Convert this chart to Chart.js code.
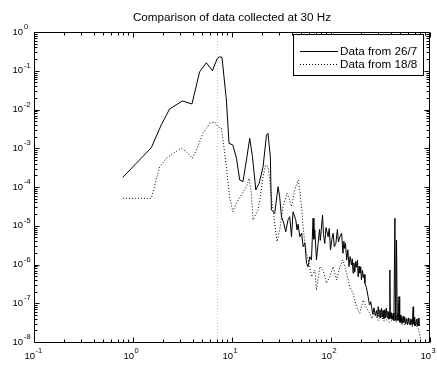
<!DOCTYPE html>
<html lang="en">
<head>
<meta charset="UTF-8">
<title>Comparison of data collected at 30 Hz</title>
<script src="https://cdn.jsdelivr.net/npm/chart.js"></script>
<style>
    body { margin: 0; background: #fff; }
    .wrap { position: relative; width: 437px; height: 365px; }
</style>
</head>
<body>
<div class="wrap"><canvas id="chart"></canvas></div>
<script>
// series (frequency in Hz, power)
const freq267 = [0.79, 1.08, 1.53, 1.93, 2.34, 3.15, 3.94, 4.71, 5.51, 6.34, 7.11, 7.51, 7.92, 8.78, 9.33,
    10.2, 11.1, 11.96, 12.9, 14.0, 15.1, 16.1, 17.4, 18.8, 20.6, 22.3, 23.1, 24.4, 25.0, 27.0, 29.2,
    30.3, 31.6, 33.3, 34.9, 36.8, 38.3, 39.9, 41.4, 44.1, 45.4, 46.5, 48.4, 50.5, 52.3, 54.5, 56.6,
    58.7, 61.1, 63.5, 65.9, 67.2, 68.6, 71.3, 74.1, 76.5, 78.0, 82.1, 84.0, 86.5, 89.0, 93.5, 96.0,
    98.9, 102, 105, 108, 112, 116, 119, 123, 128, 132, 135, 137, 140, 144, 148, 152, 156, 161, 164,
    167, 170, 174, 178, 181, 185, 188, 192, 196, 200, 203, 208, 212, 216, 220, 228, 237, 245, 252,
    257, 264, 272, 280, 288, 294, 300, 306, 312, 318, 324, 330, 336, 343, 350, 356, 362, 368, 375,
    380, 385, 390, 393, 397, 401, 405, 409, 415, 425, 432, 442, 448, 452, 459, 466, 475, 488, 494,
    500, 508, 516, 525, 535, 545, 556, 568, 580, 592, 604, 615, 628, 640, 651, 662, 676, 683, 690,
    697, 703, 716, 730, 745, 759, 774, 789];
const psd267 = [1.78e-4, 4.1e-4, 1.03e-3, 4.0e-3, 1.03e-2, 1.66e-2, 1.39e-2, 9.4e-2, 0.161, 0.100, 0.21, 0.23, 0.222, 1.76e-2, 1.34e-3,
    1.21e-3, 5.5e-4, 1.52e-4, 1.37e-4, 4.97e-4, 1.81e-3, 6.05e-4, 8.4e-5, 1.25e-4, 3.34e-4, 2.2e-3, 2.43e-3, 6.05e-4, 2.55e-5, 2.1e-5, 1.02e-4,
    5.6e-5, 1.71e-5, 1.18e-5, 7.0e-6, 1.41e-5, 1.71e-5, 5.2e-6, 2.3e-5, 1.41e-5, 7.8e-6, 1.1e-5, 5.2e-6, 6.5e-6, 2.88e-6, 3.6e-6, 1.07e-6,
    8.8e-7, 1.59e-6, 1.31e-6, 1.56e-5, 4.5e-6, 7.8e-6, 1.31e-6, 3.5e-6, 8.0e-6, 4.2e-6, 1.89e-5, 6.0e-6, 3.5e-6, 9.0e-6, 5.2e-6, 8.5e-6,
    2.37e-6, 4.5e-6, 6.4e-6, 2.9e-6, 3.5e-6, 8.0e-6, 3.8e-6, 5.2e-6, 6.4e-6, 1.95e-6, 4.0e-6, 2.6e-6, 3.5e-6, 1.31e-6, 2.4e-6, 8.8e-7, 1.6e-6, 9.7e-7, 1.4e-6,
    6.0e-7, 1.1e-6, 6.5e-7, 1.2e-6, 8.5e-7, 1.3e-6, 4.8e-7, 9.0e-7, 6.0e-7, 8.5e-7, 4.0e-7, 7.0e-7, 4.6e-7, 5.5e-7, 3.3e-7, 2.5e-7, 1.48e-7, 9.0e-8, 1.1e-7,
    8.1e-8, 5.2e-8, 7.6e-8, 4.8e-8, 6.5e-8, 4.4e-8, 8.2e-8, 4.5e-8, 6.8e-8, 4.2e-8, 7.4e-8, 4.4e-8, 6.5e-8, 4.0e-8, 6.8e-8, 4.2e-8, 7.5e-8, 4.3e-8, 6.2e-8,
    3.9e-8, 5.8e-8, 4.0e-8, 7.2e-7, 4.2e-8, 6.0e-8, 4.0e-8, 5.5e-8, 3.8e-8, 5.6e-8, 3.6e-8, 1.56e-5, 5.0e-8, 3.6e-8, 4.3e-6, 5.5e-8, 3.6e-8, 1.48e-7, 3.4e-8,
    5.0e-8, 3.2e-8, 4.5e-8, 3.0e-8, 4.6e-8, 3.2e-8, 4.4e-8, 2.9e-8, 4.0e-8, 2.8e-8, 4.2e-8, 2.9e-8, 4.0e-8, 2.8e-8, 3.8e-8, 2.7e-8, 8.1e-8, 2.9e-8, 4.4e-8,
    2.7e-8, 3.8e-8, 2.6e-8, 3.9e-8, 2.6e-8, 4.1e-8, 2.6e-8, 2.7e-8];

const freq188 = [0.79, 1.53, 1.86, 2.17, 2.53, 3.08, 3.46, 3.98, 4.37, 5.09, 5.95, 6.68, 7.22, 7.82, 8.11, 8.44, 8.78, 9.12, 9.48,
    10.2, 11.1, 12.4, 14.0, 14.9, 15.7, 16.3, 18.3, 19.1, 20.6, 21.9, 23.1, 24.0, 25.0, 27.0, 28.5, 30.3, 32.8, 36.0, 38.3, 39.9,
    43.0, 46.5, 48.4, 50.3, 52.3, 54.4, 56.6, 58.7, 61.1, 63.5, 68.6, 71.3, 77.1, 83.2, 90.0, 97.2, 105, 114, 123, 132, 144, 155,
    167, 181, 195, 211, 229, 247, 260, 270, 288, 300, 320, 340, 364, 390, 420, 459, 476, 495, 535, 600, 676, 720, 759, 803];
const psd188 = [5.1e-5, 5.1e-5, 3.3e-4, 5.5e-4, 7.4e-4, 1.0e-3, 8.1e-4, 5.5e-4, 9.0e-4, 2.43e-3, 4.4e-3, 4.8e-3, 3.6e-3, 3.27e-3, 1.63e-3, 7.4e-4, 3.3e-4, 1.25e-4, 5.6e-5,
    2.3e-5, 3.9e-5, 6.2e-5, 1.02e-4, 1.68e-4, 6.9e-5, 1.41e-5, 2.55e-5, 4.6e-5, 1.85e-4, 3.7e-4, 3.3e-4, 1.52e-4, 5.6e-5, 1.16e-5, 3.9e-6, 7.8e-6, 3.1e-5, 6.9e-5, 4.6e-5, 3.1e-5,
    8.4e-5, 1.52e-4, 8.4e-5, 3.1e-5, 9.4e-6, 3.5e-6, 1.95e-6, 1.31e-6, 8.8e-7, 4.8e-7, 7.2e-7, 2.2e-7, 8.8e-7, 7.2e-7, 3.3e-7, 4.8e-7, 8.8e-7, 4.0e-7, 8.8e-7, 1.31e-6, 5.9e-7, 2.67e-7,
    1.8e-7, 8.1e-8, 5.5e-8, 1.21e-7, 7.5e-8, 5.5e-8, 4.0e-8, 5.5e-8, 4.5e-8, 3.6e-8, 4.8e-8, 3.5e-8, 3.7e-8, 3.2e-8, 3.8e-8, 3.35e-8, 1.48e-7, 3.1e-8, 2.75e-8, 3.0e-8, 2.5e-8, 2.8e-8, 2.26e-8, 1.24e-8];

const seriesNames = ['Data from 26/7', 'Data from 18/8'];
const titleText = 'Comparison of data collected at 30 Hz';
const xDecades = [-1, 0, 1, 2, 3];
const yDecades = [0, -1, -2, -3, -4, -5, -6, -7, -8];
const markerFreq = 7.1;

const toPoints = (xs, ys) => xs.map((x, i) => ({ x: x, y: ys[i] }));

const FONT = "'Liberation Sans', Arial, Helvetica, sans-serif";

function drawPow10(ctx, exp, x, y, axis) {
    const sup = exp < 0 ? '-' + Math.abs(exp) : String(exp);
    ctx.fillStyle = '#000';
    ctx.textBaseline = 'middle';
    if (axis === 'y') {
        ctx.font = '9.5px ' + FONT;
        ctx.textAlign = 'right';
        ctx.fillText('10', 23, y);
        ctx.font = '7.5px ' + FONT;
        ctx.textAlign = 'left';
        ctx.fillText(sup, 24, y - 5);
    } else {
        ctx.font = '9.5px ' + FONT;
        ctx.textAlign = 'right';
        ctx.fillText('10', x + 1, 356);
        ctx.font = '7.5px ' + FONT;
        ctx.textAlign = 'left';
        ctx.fillText(sup, x + 1.5, 351);
    }
}

// matlab style box, inward ticks, title and legend
const matlabAxes = {
    id: 'matlabAxes',
    beforeDatasetsDraw(chart) {
        const { ctx, chartArea: a, scales } = chart;
        const px = Math.round(scales.x.getPixelForValue(markerFreq)) + 0.5;
        ctx.save();
        ctx.strokeStyle = '#c8c8c8';
        ctx.lineWidth = 1;
        ctx.setLineDash([1, 2]);
        ctx.beginPath();
        ctx.moveTo(px, a.top);
        ctx.lineTo(px, a.bottom);
        ctx.stroke();
        ctx.restore();
    },
    afterDraw(chart) {
        const { ctx, chartArea: a, scales } = chart;
        const L = a.left + 0.5, R = a.right - 0.5, T = a.top + 0.5, B = a.bottom + 0.5;
        ctx.save();
        ctx.strokeStyle = '#000';
        ctx.lineWidth = 1;
        ctx.setLineDash([]);
        ctx.beginPath();
        ctx.rect(L, T, R - L, B - T);

        // x ticks
        xDecades.forEach(d => {
            for (let m = 1; m <= 9; m++) {
                if (d === 3 && m > 1) break;
                const v = m * Math.pow(10, d);
                const p = Math.round(scales.x.getPixelForValue(v)) + 0.5;
                const len = m === 1 ? 5 : 3;
                ctx.moveTo(p, B); ctx.lineTo(p, B - len);
                ctx.moveTo(p, T); ctx.lineTo(p, T + len);
            }
        });
        // y ticks
        yDecades.forEach(d => {
            for (let m = 1; m <= 9; m++) {
                if (d === 0 && m > 1) break;
                const v = m * Math.pow(10, d);
                const p = Math.round(scales.y.getPixelForValue(v)) + 0.5;
                const len = m === 1 ? 5 : 3;
                ctx.moveTo(L, p); ctx.lineTo(L + len, p);
                ctx.moveTo(R, p); ctx.lineTo(R - len, p);
            }
        });
        ctx.stroke();

        xDecades.forEach(d => drawPow10(ctx, d, scales.x.getPixelForValue(Math.pow(10, d)), 0, 'x'));
        yDecades.forEach(d => drawPow10(ctx, d, 0, scales.y.getPixelForValue(Math.pow(10, d)), 'y'));

        // title
        ctx.font = '11.7px ' + FONT;
        ctx.textAlign = 'center';
        ctx.textBaseline = 'middle';
        ctx.fillText(titleText, (a.left + a.right) / 2, 18);

        // legend
        ctx.fillStyle = '#fff';
        ctx.fillRect(293.5, 34.5, 130, 41);
        ctx.strokeRect(293.5, 34.5, 130, 41);
        ctx.fillStyle = '#000';
        ctx.textAlign = 'left';
        const rows = [51.5, 64.5];
        rows.forEach((y, i) => {
            ctx.setLineDash(i === 0 ? [] : [1, 2]);
            ctx.beginPath();
            ctx.moveTo(300, y);
            ctx.lineTo(338, y);
            ctx.stroke();
            ctx.fillText(seriesNames[i], 340, y);
        });
        ctx.restore();
    }
};

new Chart(document.getElementById('chart'), {
    type: 'line',
    data: {
        datasets: [
            { label: seriesNames[0], data: toPoints(freq267, psd267), borderColor: '#000', borderWidth: 1, pointRadius: 0, tension: 0 },
            { label: seriesNames[1], data: toPoints(freq188, psd188), borderColor: '#000', borderWidth: 1, borderDash: [1, 2], pointRadius: 0, tension: 0 }
        ]
    },
    options: {
        responsive: true,
        maintainAspectRatio: false,
        animation: false,
        layout: { padding: { left: 34, right: 7, top: 32, bottom: 23 } },
        plugins: { legend: { display: false }, title: { display: false }, tooltip: { enabled: false } },
        scales: {
            x: { type: 'logarithmic', min: 0.1, max: 1000, display: false },
            y: { type: 'logarithmic', min: 1e-8, max: 1, display: false }
        }
    },
    plugins: [matlabAxes]
});
</script>
</body>
</html>
